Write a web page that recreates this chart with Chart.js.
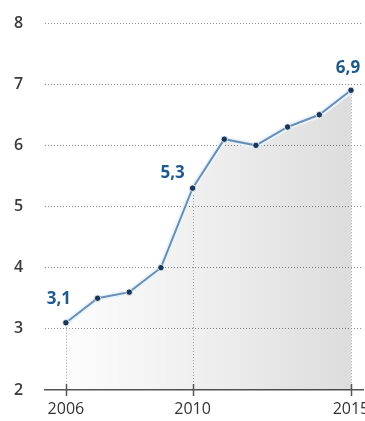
<!DOCTYPE html>
<html><head><meta charset="utf-8">
<script src="https://cdn.jsdelivr.net/npm/chart.js@4/dist/chart.umd.min.js"></script>
<style>
html,body{margin:0;padding:0;background:#fff;overflow:hidden;width:365px;height:421px;}
#wrap{width:365px;height:421px;overflow:hidden;position:relative;}
#box{width:380px;height:421px;position:absolute;left:0;top:0;}
</style></head><body>
<div id="wrap"><div id="box"><canvas id="c"></canvas></div></div>
<script>
const years = [2006,2007,2008,2009,2010,2011,2012,2013,2014,2015];
const values = [3.1,3.5,3.6,4.0,5.3,6.1,6.0,6.3,6.5,6.9];
const xTickYears = [2006,2010,2015];
const yTicks = [2,3,4,5,6,7,8];
const labelledIdx = [0,4,9];

const pts = years.map((y,i)=>({x:y,y:values[i]}));
const FONT = '"Open Sans", "DejaVu Sans", sans-serif';

const decor = {
  id:'decor',
  beforeDatasetsDraw(chart){
    const {ctx, scales:{x,y}} = chart;
    ctx.save();
    ctx.strokeStyle='#a0a0a0'; ctx.lineWidth=1; ctx.setLineDash([1,2]);
    xTickYears.forEach(yr=>{
      const i = years.indexOf(yr);
      const px = Math.round(x.getPixelForValue(yr))+0.5;
      ctx.beginPath();
      ctx.moveTo(px, y.getPixelForValue(values[i])+4);
      ctx.lineTo(px, y.getPixelForValue(2));
      ctx.stroke();
    });
    ctx.restore();
  },
  afterDraw(chart){
    const {ctx, scales:{x,y}} = chart;
    ctx.save();
    ctx.strokeStyle='#555'; ctx.lineWidth=1.5;
    const by = y.getPixelForValue(2);
    xTickYears.forEach(yr=>{
      const px = Math.round(x.getPixelForValue(yr))+0.5;
      ctx.beginPath(); ctx.moveTo(px, by-6); ctx.lineTo(px, by+6); ctx.stroke();
    });
    ctx.fillStyle='#1f5a8c';
    ctx.font='bold 17px '+FONT;
    ctx.textAlign='center'; ctx.textBaseline='middle';
    const offs = {0:[-7,-24],4:[-20,-15],9:[-3,-22]};
    labelledIdx.forEach(i=>{
      const px = x.getPixelForValue(years[i]);
      const py = y.getPixelForValue(values[i]);
      const o = offs[i]||[0,-20];
      ctx.fillText(values[i].toFixed(1).replace('.',','), px+o[0], py+o[1]);
    });
    ctx.restore();
  }
};

new Chart(document.getElementById('c'), {
  type:'line',
  data:{datasets:[
    {data:pts, borderColor:'#6a8fb6', borderWidth:2, pointRadius:3.2,
     pointBackgroundColor:'#17375a', pointBorderColor:'rgba(255,255,255,0.8)', pointBorderWidth:1,
     fill:false, tension:0, order:1},
    {data:pts, borderColor:'rgba(235,244,252,0.95)', borderWidth:6, pointRadius:0, tension:0, order:2,
     fill:'start',
     backgroundColor:(ctx)=>{
       const ca = ctx.chart.chartArea; if(!ca) return 'rgba(0,0,0,0.1)';
       const g = ctx.chart.ctx.createLinearGradient(ca.left,0,ca.right,0);
       g.addColorStop(0,'rgba(0,0,0,0.0)');
       g.addColorStop(0.55,'rgba(0,0,0,0.07)');
       g.addColorStop(1,'rgba(0,0,0,0.14)');
       return g;
     }}
  ]},
  options:{
    responsive:true, maintainAspectRatio:false, animation:false,
    layout:{padding:{left:14,top:23,right:17,bottom:0}},
    plugins:{legend:{display:false}, tooltip:{enabled:false}},
    scales:{
      x:{type:'linear', min:2005.34, max:2015.38,
        afterBuildTicks:(s)=>{s.ticks = xTickYears.map(v=>({value:v}));},
        afterFit:(s)=>{s.height=31;},
        grid:{display:false, drawTicks:false},
        border:{display:true, color:'#555', width:1.5},
        ticks:{padding:10, color:'#333', font:{family:FONT,size:16}, maxRotation:0, autoSkip:false,
          callback:(v)=>String(v)}
      },
      y:{min:2, max:8,
        afterBuildTicks:(s)=>{s.ticks = yTicks.map(v=>({value:v}));},
        afterFit:(s)=>{s.width=31;},
        border:{display:false, dash:[1,2]},
        grid:{drawTicks:false, color:(c)=>c.tick.value===2?'rgba(0,0,0,0)':'#8a8a8a', lineWidth:1},
        ticks:{crossAlign:'far', padding:0, color:'#3a3a3a', font:{family:FONT,size:16,weight:'600'},
          callback:(v)=>String(v)}
      }
    }
  },
  plugins:[decor]
});
</script>
</body></html>
